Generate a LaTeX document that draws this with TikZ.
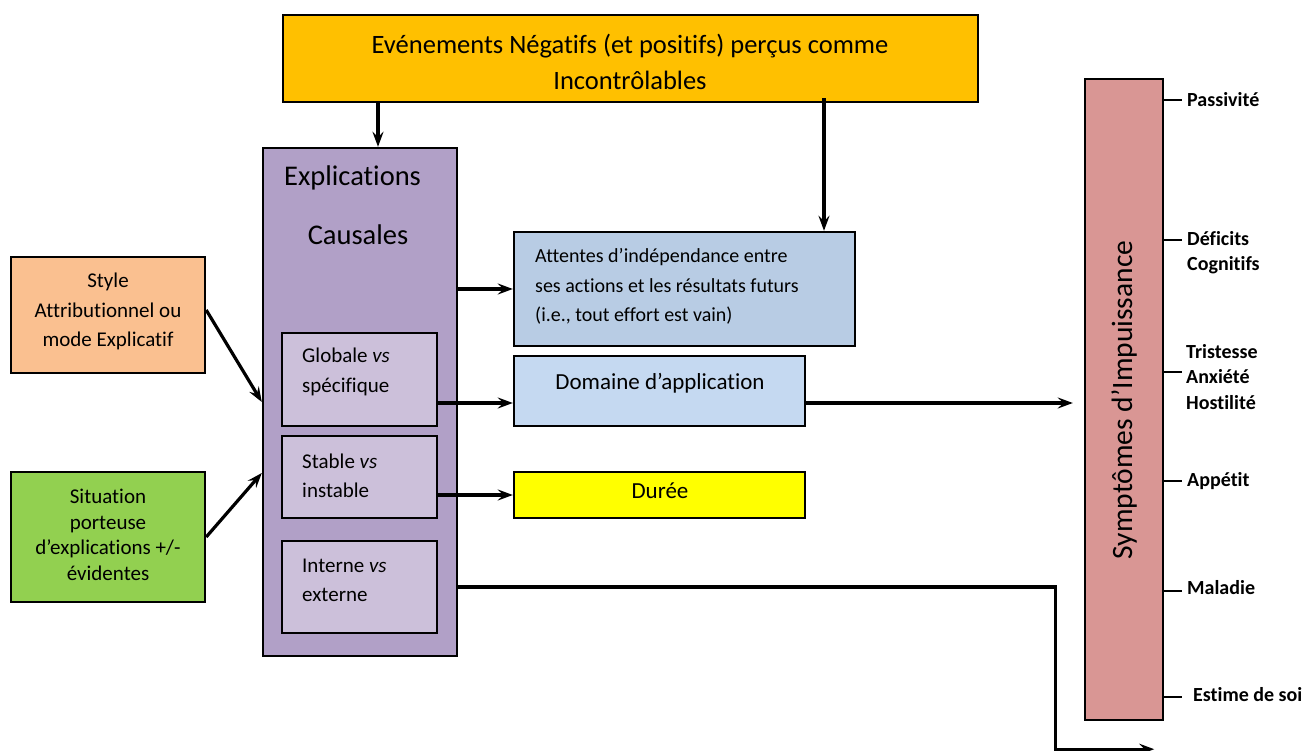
\documentclass[tikz,border=0pt]{standalone}
\usepackage{fontspec}
\setmainfont{Carlito}[Ligatures={NoCommon}]
\usetikzlibrary{arrows.meta}
\definecolor{cOrange}{HTML}{FFC000}
\definecolor{cPurple}{HTML}{B1A0C7}
\definecolor{cLilac}{HTML}{CCC0DA}
\definecolor{cBlueA}{HTML}{B8CCE4}
\definecolor{cBlueB}{HTML}{C5D9F1}
\definecolor{cYellow}{HTML}{FFFF00}
\definecolor{cPeach}{HTML}{FAC090}
\definecolor{cGreen}{HTML}{92D050}
\definecolor{cRose}{HTML}{D99694}
\begin{document}
\begin{tikzpicture}[x=1pt,y=-1pt,
  box/.style={draw=black,line width=2.4pt,inner sep=0pt},
  arr/.style={line width=3.2pt,-{Stealth[length=15pt,width=11pt,inset=5.5pt]}},
  tickline/.style={line width=2.4pt},
  txt/.style={inner sep=0pt,text=black},
  lab/.style={inner sep=0pt,anchor=west,align=left,font=\fontsize{20}{25.5}\selectfont\bfseries}]
\useasboundingbox (0,0) rectangle (1307,751);
% boxes
\node[box,fill=cOrange,minimum width=695pt,minimum height=87pt] (top) at (630.5,58.5) {};
\node[box,fill=cPurple,minimum width=194pt,minimum height=508pt] (expl) at (360,402) {};
\node[box,fill=cLilac,minimum width=155pt,minimum height=93pt] (glob) at (359.5,379.5) {};
\node[box,fill=cLilac,minimum width=155pt,minimum height=82pt] (stab) at (359.5,477) {};
\node[box,fill=cLilac,minimum width=155pt,minimum height=92pt] (int) at (359.5,587) {};
\node[box,fill=cBlueA,minimum width=341pt,minimum height=114pt] (att) at (684.5,289) {};
\node[box,fill=cBlueB,minimum width=291pt,minimum height=70pt] (dom) at (659.5,391) {};
\node[box,fill=cYellow,minimum width=291pt,minimum height=46pt] (dur) at (659.5,495) {};
\node[box,fill=cPeach,minimum width=194pt,minimum height=116pt] (sty) at (108,315) {};
\node[box,fill=cGreen,minimum width=194pt,minimum height=130pt] (sit) at (108,537) {};
\node[box,fill=cRose,minimum width=78pt,minimum height=641pt] (symp) at (1124,399.5) {};
% texts
\node[txt,align=center,font=\fontsize{26.5}{36}\selectfont] (toptxt) at (630,62) {Evénements Négatifs (et positifs) perçus comme\\Incontrôlables};
\node[txt,anchor=west,font=\fontsize{28.5}{34}\selectfont] (expl1) at (284,178) {Explications};
\node[txt,font=\fontsize{28.5}{34}\selectfont] (expl2) at (358,235) {Causales};
\node[txt,anchor=west,align=left,font=\fontsize{21}{30}\selectfont] (globtxt) at (302,372) {Globale \textit{vs}\\spécifique};
\node[txt,anchor=west,align=left,font=\fontsize{21}{29}\selectfont] (stabtxt) at (302,475.5) {Stable \textit{vs}\\instable};
\node[txt,anchor=west,align=left,font=\fontsize{21}{29}\selectfont] (inttxt) at (302,580.5) {Interne \textit{vs}\\externe};
\node[txt,anchor=west,align=left,font=\fontsize{20}{29.5}\selectfont] (atttxt) at (535,286.5) {Attentes d’indépendance entre\\ses actions et les résultats futurs\\(i.e., tout effort est vain)};
\node[txt,font=\fontsize{23}{28}\selectfont] (domtxt) at (660,383) {Domaine d’application};
\node[txt,font=\fontsize{23}{28}\selectfont] (durtxt) at (660,491) {Durée};
\node[txt,align=center,font=\fontsize{21}{29.5}\selectfont] (stytxt) at (108,311.5) {Style\\Attributionnel ou\\mode Explicatif};
\node[txt,align=center,font=\fontsize{21}{25.5}\selectfont] (sittxt) at (108,535) {Situation\\porteuse\\d’explications +/-\\évidentes};
\node[txt,rotate=90,font=\fontsize{29.5}{34}\selectfont] (symptxt) at (1124,400) {Symptômes d’Impuissance};
% symptom labels
\node[lab] (l1) at (1187,100) {Passivité};
\node[lab] (l2) at (1187,252.5) {Déficits\\Cognitifs};
\node[lab] (l3) at (1186,377) {Tristesse\\Anxiété\\Hostilité};
\node[lab] (l4) at (1187,481) {Appétit};
\node[lab] (l5) at (1187,588) {Maladie};
\node[lab] (l6) at (1193,695) {Estime de soi};
\coordinate (k1) at (1182,100);
\coordinate (k2) at (1182,240);
\coordinate (k3) at (1182,372);
\coordinate (k4) at (1182,481);
\coordinate (k5) at (1182,591);
\coordinate (k6) at (1182,697);
\foreach \k in {k1,k2,k3,k4,k5,k6} \draw[tickline] (symp.east |- \k) -- (\k);
% connectors
\coordinate (e1) at ([xshift=18pt]expl.north);
\draw[arr] (e1 |- top.south) -- (e1);
\coordinate (a0) at ([yshift=5pt]top.south);
\coordinate (a1) at ([xshift=139.5pt]att.north);
\draw[arr] (a1 |- a0) -- (a1);
\draw[arr] (expl.east |- att.west) -- (att.west);
\coordinate (d1) at ([yshift=-12pt]dom.west);
\coordinate (d2) at ([yshift=-12pt]dom.east);
\coordinate (s0) at ([xshift=-11pt]symp.west);
\draw[arr] (glob.east |- d1) -- (d1);
\draw[arr] (d2) -- (s0 |- d2);
\draw[arr] (stab.east |- dur.west) -- (dur.west);
\coordinate (i1) at ([xshift=-28pt,yshift=-28pt]symp.south west);
\coordinate (i2) at ([xshift=-10pt,yshift=-28pt]symp.south east);
\draw[arr] (expl.east |- int.east) -| (i1) -- (i2);
\coordinate (y1) at ([yshift=5pt]sty.east);
\draw[arr] (y1) -- (expl.west);
\coordinate (y2) at ([yshift=-71pt]expl.west);
\draw[arr] (sit.east) -- (y2);
\end{tikzpicture}
\end{document}
